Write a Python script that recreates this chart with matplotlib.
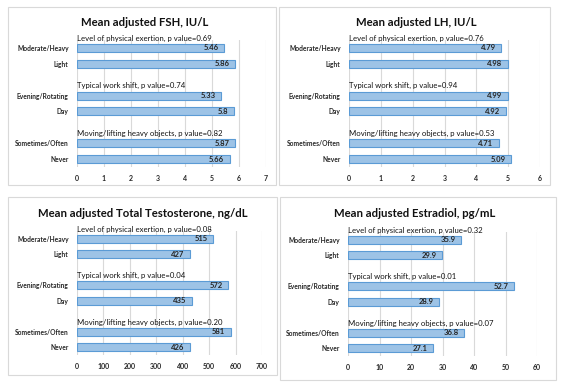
import matplotlib.pyplot as plt
from matplotlib.patches import Rectangle

plt.rcParams['font.family'] = ['Lato', 'DejaVu Sans']

# data
categories = ["Moderate/Heavy", "Light", "Evening/Rotating", "Day", "Sometimes/Often", "Never"]
groups = ["Level of physical exertion", "Typical work shift", "Moving/lifting heavy objects"]

fsh = [5.46, 5.86, 5.33, 5.8, 5.87, 5.66]
fsh_p = ["0.69", "0.74", "0.82"]
lh = [4.79, 4.98, 4.99, 4.92, 4.71, 5.09]
lh_p = ["0.76", "0.94", "0.53"]
testo = [515, 427, 572, 435, 581, 426]
testo_p = ["0.08", "0.04", "0.20"]
estradiol = [35.9, 29.9, 52.7, 28.9, 36.8, 27.1]
estradiol_p = ["0.32", "0.01", "0.07"]

W, H = 561, 388
BAR_FILL = "#9DC3E6"
BAR_EDGE = "#5B9BD5"
GRID = "#D9D9D9"

fig = plt.figure(figsize=(W / 100, H / 100), dpi=100)
fig.patch.set_facecolor("white")


def px_box(x0, y0, x1, y1):
    # pixel box (top-left origin) -> figure rect
    return [x0 / W, 1 - y1 / H, (x1 - x0) / W, (y1 - y0) / H]


def draw_panel(frame, axbox, title, title_xy, values, pvals, xmax, step):
    fig.patches.append(Rectangle((frame[0], frame[1]), frame[2], frame[3],
                                 transform=fig.transFigure, fill=False,
                                 edgecolor=GRID, linewidth=0.8))
    fig.text(title_xy[0] / W, 1 - title_xy[1] / H, title, ha="center", va="center",
             fontsize=8.2, fontweight="bold", color="#111111")

    ax = fig.add_axes(axbox)
    pos = [0, 1, 3, 4, 6, 7]
    ax.barh(pos, values, height=0.5, color=BAR_FILL, edgecolor=BAR_EDGE, linewidth=0.8, zorder=2)
    for p, v in zip(pos, values):
        ax.annotate(f"{v:g}", (v, p), xytext=(-4, 0), textcoords="offset points",
                    ha="right", va="center", fontsize=5.5, fontweight="bold", color="#262626", zorder=3)
    for g, name, pv in zip([0, 3, 6], groups, pvals):
        ax.text(0, g - 0.62, f"{name}, p value={pv}", ha="left", va="center",
                fontsize=5.6, color="#111111", clip_on=False)

    ax.set_ylim(7.5, -0.5)
    ax.set_xlim(0, xmax)
    ax.set_yticks(pos)
    ax.set_yticklabels(categories, fontsize=4.8, fontweight="bold", color="#262626")
    ax.set_xticks(range(0, xmax + 1, step))
    ax.tick_params(axis="x", labelsize=5, colors="#262626", length=0, pad=6)
    ax.tick_params(axis="y", length=0, pad=6)
    for lab in ax.get_xticklabels():
        lab.set_fontweight("bold")
    ax.grid(axis="x", color=GRID, linewidth=0.8, zorder=0)
    for s in ax.spines.values():
        s.set_visible(False)
    ax.set_facecolor("none")


draw_panel(px_box(8, 7, 276, 185), px_box(77, 40, 266, 167),
           "Mean adjusted FSH, IU/L", (145, 23), fsh, fsh_p, 7, 1)
draw_panel(px_box(279, 7, 550, 185), px_box(349, 40, 540, 167),
           "Mean adjusted LH, IU/L", (416, 23), lh, lh_p, 6, 1)
draw_panel(px_box(8, 197, 277, 375), px_box(77, 231, 262, 355),
           "Mean adjusted Total Testosterone, ng/dL", (143, 213), testo, testo_p, 700, 100)
draw_panel(px_box(280, 197, 556, 380), px_box(348, 232, 537, 356),
           "Mean adjusted Estradiol, pg/mL", (415, 213), estradiol, estradiol_p, 60, 10)

fig.savefig("out.png", dpi=100)
